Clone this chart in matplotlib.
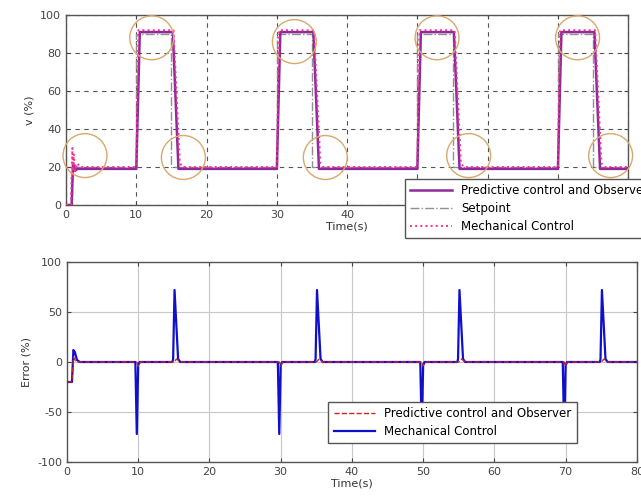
import matplotlib
matplotlib.use("Agg")
import matplotlib.pyplot as plt

plt.rcParams['font.family'] = ['DejaVu Sans']
plt.rcParams['axes.unicode_minus'] = False

# ---------------- data ----------------
# Top panel: valve opening v (%)
t_set = [0, 0.9, 0.9, 10, 10, 15, 15, 30, 30, 35, 35, 50, 50, 55, 55, 70, 70, 75, 75, 80]
v_set = [0, 0, 20, 20, 90, 90, 20, 20, 90, 90, 20, 20, 90, 90, 20, 20, 90, 90, 20, 20]

t_pred = [0, 0.8, 1.0, 1.3, 1.6, 10.0, 10.5, 15.2, 16.0,
          30.0, 30.5, 35.2, 36.0, 50.0, 50.5, 55.2, 56.0, 70.0, 70.5, 75.2, 76.0, 80]
v_pred = [0, 0, 22, 18, 19, 19, 91, 91, 19,
          19, 91, 91, 19, 19, 91, 91, 19, 19, 91, 91, 19, 19]

t_mech = [0, 0.7, 0.9, 1.0, 1.1, 1.3, 1.6, 2.0, 10.0, 10.3, 15.3, 16.2, 16.6,
          30.0, 30.3, 35.3, 36.2, 36.6, 50.0, 50.3, 55.3, 56.2, 56.6,
          70.0, 70.3, 75.3, 76.2, 76.6, 80]
v_mech = [0, 0, 30, 15, 27, 18, 22, 20, 20, 92, 92, 22, 20,
          20, 92, 92, 22, 20, 20, 92, 92, 22, 20,
          20, 92, 92, 22, 20, 20]

# Highlight circles (t, v)
circ_t = [2.7, 12.2, 16.7, 32.5, 36.9, 52.8, 57.3, 72.8, 77.5]
circ_v = [26, 88, 25, 86, 25, 88, 26, 88, 26]

# Bottom panel: error (%)
te_mech = [0, 0.7, 0.9, 1.1, 1.4, 1.8,
           9.6, 9.8, 10.0, 10.2, 14.8, 14.9, 15.1, 15.6, 15.9,
           29.6, 29.8, 30.0, 30.2, 34.8, 34.9, 35.1, 35.6, 35.9,
           49.6, 49.8, 50.0, 50.2, 54.8, 54.9, 55.1, 55.6, 55.9,
           69.6, 69.8, 70.0, 70.2, 74.8, 74.9, 75.1, 75.6, 75.9, 80]
e_mech = [-20, -20, 12, 10, 2, 0,
          0, -72, -3, 0, 0, 3, 72, 3, 0,
          0, -72, -3, 0, 0, 3, 72, 3, 0,
          0, -72, -3, 0, 0, 3, 72, 3, 0,
          0, -72, -3, 0, 0, 3, 72, 3, 0, 0]

te_pred = [0, 0.7, 0.9, 1.2, 1.6, 9.8, 10.0, 10.3, 15.0, 15.4, 15.9,
           29.8, 30.0, 30.3, 35.0, 35.4, 35.9, 49.8, 50.0, 50.3, 55.0, 55.4, 55.9,
           69.8, 70.0, 70.3, 75.0, 75.4, 75.9, 80]
e_pred = [-20, -20, 5, 1, 0, 0, -4, 0, 0, 3, 0,
          0, -4, 0, 0, 3, 0, 0, -4, 0, 0, 3, 0,
          0, -4, 0, 0, 3, 0, 0]

xticks = [0, 10, 20, 30, 40, 50, 60, 70, 80]
yticks_top = [0, 20, 40, 60, 80, 100]
yticks_bot = [-100, -50, 0, 50, 100]

# ---------------- figure ----------------
fig = plt.figure(figsize=(6.41, 5.0), dpi=100)
tick_color = '#444444'

ax1 = fig.add_axes([0.103, 0.59, 0.877, 0.38])
ax1.set_zorder(5)
ax1.plot(t_set, v_set, color='#909090', lw=1.0, ls='-.', label='Setpoint', zorder=2)
ax1.plot(t_pred, v_pred, color='#8e2a9a', lw=1.8, label='Predictive control and Observer', zorder=3)
ax1.plot(t_mech, v_mech, color='#ff2f8f', lw=1.4, ls=':', label='Mechanical Control', zorder=4)
ax1.scatter(circ_t, circ_v, s=1000, facecolors='none', edgecolors='#d9a86c', linewidths=1.0,
            clip_on=False, zorder=5)
ax1.set_xlim(0, 80)
ax1.set_ylim(0, 100)
ax1.set_xticks(xticks)
ax1.set_yticks(yticks_top)
ax1.grid(True, ls='--', color='#555555', lw=0.8, dashes=(4, 4))
ax1.set_ylabel('v (%)', fontsize=8, color='#333333')
ax1.set_xlabel('Time(s)', fontsize=8, color='#333333', labelpad=1)
h, l = ax1.get_legend_handles_labels()
order = [1, 0, 2]
leg1 = ax1.legend([h[i] for i in order], [l[i] for i in order], loc='upper left',
                  bbox_to_anchor=(0.632, 0.642), bbox_transform=fig.transFigure,
                  borderaxespad=0,
                  fontsize=8.5, frameon=True, fancybox=False, edgecolor='#555555',
                  framealpha=1, handlelength=3.5, borderpad=0.45, labelspacing=0.4)
leg1.set_zorder(10)

ax2 = fig.add_axes([0.1045, 0.076, 0.889, 0.4])
ax2.set_zorder(1)
ax2.plot(te_mech, e_mech, color='#1010cc', lw=1.6, label='Mechanical Control', zorder=3)
ax2.plot(te_pred, e_pred, color='#cc2222', lw=1.0, ls='--', label='Predictive control and Observer', zorder=4)
ax2.set_xlim(0, 80)
ax2.set_ylim(-100, 100)
ax2.set_xticks(xticks)
ax2.set_yticks(yticks_bot)
ax2.grid(True, ls='-', color='#c8c8c8', lw=0.8)
ax2.set_ylabel('Error (%)', fontsize=8, color='#333333')
ax2.set_xlabel('Time(s)', fontsize=8, color='#333333', labelpad=1)
h, l = ax2.get_legend_handles_labels()
leg2 = ax2.legend([h[1], h[0]], [l[1], l[0]], loc='upper left',
                  bbox_to_anchor=(0.512, 0.196), bbox_transform=fig.transFigure,
                  borderaxespad=0,
                  fontsize=8.5, frameon=True, fancybox=False, edgecolor='#555555',
                  framealpha=1, handlelength=3.5, borderpad=0.45, labelspacing=0.4)
leg2.set_zorder(10)

for ax in (ax1, ax2):
    ax.set_axisbelow(True)
    ax.tick_params(direction='in', labelsize=8, colors=tick_color, length=3, top=True, right=True)
    for sp in ax.spines.values():
        sp.set_color('#555555')
        sp.set_linewidth(1.0)

fig.savefig('out.png', dpi=100)
